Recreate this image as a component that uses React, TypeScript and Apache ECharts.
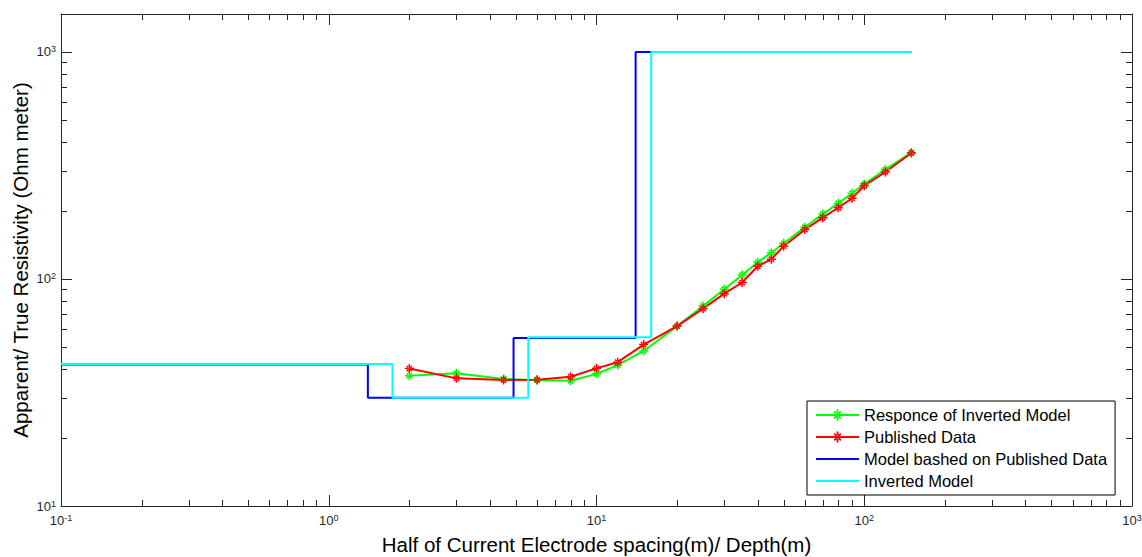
import React, { useEffect, useRef } from "react";
import * as echarts from "echarts";

// Half of current electrode spacing (m)
const spacing = [2, 3, 4.5, 6, 8, 10, 12, 15, 20, 25, 30, 35, 40, 45, 50, 60, 70, 80, 90, 100, 120, 150];
// Published apparent resistivity (Ohm m)
const published = [40.3, 36.5, 35.9, 36.0, 37.1, 40.4, 43, 51.4, 62, 74, 86.2, 96.5, 113.8, 122.3, 139.5, 165, 186.2, 206, 226.8, 257.6, 296, 359];
// Response of inverted model (Ohm m)
const response = [37.5, 38.4, 36.3, 35.8, 35.6, 38.2, 41.7, 48.2, 62, 76, 90.1, 104.1, 118.5, 130.6, 143.6, 169, 193.4, 215.5, 238.5, 262, 304, 360];

// Layered models: resistivity per layer and layer-bottom depths
const modelRho = [42, 30, 55, 1000];
const modelDepth = [1.4, 4.9, 14];
const invRho = [42.2, 30, 55.4, 1000];
const invDepth = [1.73, 5.56, 16];
const modelStart = 0.1;
const modelEnd = 150;

const seriesNames = [
  "Responce of Inverted Model",
  "Published Data",
  "Model bashed on Published Data",
  "Inverted Model",
];

const FONT = "'Liberation Sans', Arial, Helvetica, sans-serif";

function stairs(rho: number[], depth: number[]) {
  const pts: number[][] = [];
  let x0 = modelStart;
  rho.forEach((r, i) => {
    const x1 = i < depth.length ? depth[i] : modelEnd;
    pts.push([x0, r]);
    pts.push([x1, r]);
    x0 = x1;
  });
  return pts;
}

const ASTERISK =
  "path://M-1,-6L1,-6L1,6L-1,6Z M-6,-1L6,-1L6,1L-6,1Z M2.83,4.25L4.25,2.83L-2.83,-4.25L-4.25,-2.83Z M-2.83,4.25L-4.25,2.83L2.83,-4.25L4.25,-2.83Z";
const LINE_ICON = "path://M0,0L43,0L43,2L0,2Z";

function minorList(decades: number[]) {
  const out: number[] = [];
  decades.forEach((d) => {
    for (let k = 2; k <= 9; k++) out.push(k * d);
  });
  return out;
}

const Y_MAX = 1470;

export default function App() {
  const ref = useRef<HTMLDivElement>(null);
  useEffect(() => {
    if (!ref.current) return;
    document.body.style.margin = "0";
    const chart = echarts.init(ref.current, undefined, { renderer: "svg", width: 1142, height: 557 });

    const xMinor = minorList([0.1, 1, 10, 100]).map((v) => [v, 100, 0]);
    const yMinor = minorList([10, 100]).filter((v) => v < Y_MAX).map((v) => [1, v, 1]);

    const labelFmt = (v: number) => {
      const l = Math.log10(v);
      const e = Math.round(l);
      if (Math.abs(l - e) > 1e-6) return "";
      return `{b|10}{s|${e}}`;
    };
    const rich = {
      b: { fontSize: 13, fontFamily: FONT, color: "#262626", lineHeight: 14, verticalAlign: "middle" },
      s: { fontSize: 9, fontFamily: FONT, color: "#262626", lineHeight: 10, verticalAlign: "top", padding: [0, 0, 12, 0] },
    };
    const axisLineStyle = { color: "#262626", width: 1 };

    const option: any = {
      animation: false,
      backgroundColor: "#fff",
      grid: { left: 61, right: 10, top: 14, bottom: 51, containLabel: false, outerBoundsMode: "none" },
      legend: {
        data: [
          { name: seriesNames[0] },
          { name: seriesNames[1] },
          { name: seriesNames[2], icon: LINE_ICON },
          { name: seriesNames[3], icon: LINE_ICON },
        ],
        orient: "vertical",
        left: 807,
        top: 401,
        padding: [5, 8, 5, 8],
        itemWidth: 43,
        itemHeight: 14,
        itemGap: 4,
        borderColor: "#000",
        borderWidth: 1,
        backgroundColor: "#fff",
        textStyle: { fontSize: 16.5, fontFamily: FONT, color: "#000", lineHeight: 18 },
        z: 10,
      },
      xAxis: [
        {
          type: "log",
          logBase: 10,
          min: 0.1,
          max: 1000,
          position: "bottom",
          name: "Half of Current Electrode spacing(m)/ Depth(m)",
          nameLocation: "middle",
          nameGap: 28,
          nameMoveOverlap: false,
          nameTextStyle: { fontSize: 20.5, fontFamily: FONT, color: "#000" },
          axisLine: { show: true, lineStyle: axisLineStyle },
          axisTick: { show: true, inside: true, length: 11, lineStyle: axisLineStyle },
          axisLabel: { formatter: labelFmt, rich, margin: 7 },
          splitLine: { show: false },
        },
        {
          type: "log",
          logBase: 10,
          min: 0.1,
          max: 1000,
          position: "top",
          axisLine: { show: true, lineStyle: axisLineStyle },
          axisTick: { show: true, inside: true, length: 11, lineStyle: axisLineStyle },
          axisLabel: { show: false },
          splitLine: { show: false },
        },
      ],
      yAxis: [
        {
          type: "log",
          logBase: 10,
          min: 10,
          max: Y_MAX,
          position: "left",
          name: "Apparent/ True Resistivity (Ohm meter)",
          nameLocation: "middle",
          nameGap: 30,
          nameMoveOverlap: false,
          nameRotate: 90,
          nameTextStyle: { fontSize: 20.5, fontFamily: FONT, color: "#000" },
          axisLine: { show: true, lineStyle: axisLineStyle },
          axisTick: { show: true, inside: true, length: 11, lineStyle: axisLineStyle },
          axisLabel: { formatter: labelFmt, rich, margin: 5, showMaxLabel: false },
          splitLine: { show: false },
        },
        {
          type: "log",
          logBase: 10,
          min: 10,
          max: Y_MAX,
          position: "right",
          axisLine: { show: true, lineStyle: axisLineStyle },
          axisTick: { show: true, inside: true, length: 11, lineStyle: axisLineStyle },
          axisLabel: { show: false },
          splitLine: { show: false },
        },
      ],
      series: [
        {
          type: "custom",
          name: "minorTicks",
          silent: true,
          xAxisIndex: 0,
          yAxisIndex: 0,
          encode: { x: 0, y: 1 },
          data: [...xMinor, ...yMinor],
          clip: false,
          renderItem: (params: any, api: any) => {
            const cs = params.coordSys;
            const kind = api.value(2);
            const style = { stroke: "#262626", lineWidth: 1 };
            if (kind === 0) {
              const p = api.coord([api.value(0), 100]);
              const x = Math.round(p[0]) + 0.5;
              return {
                type: "group",
                children: [
                  { type: "line", shape: { x1: x, y1: cs.y + cs.height, x2: x, y2: cs.y + cs.height - 6 }, style },
                  { type: "line", shape: { x1: x, y1: cs.y, x2: x, y2: cs.y + 6 }, style },
                ],
              };
            }
            const p = api.coord([1, api.value(1)]);
            const y = Math.round(p[1]) + 0.5;
            return {
              type: "group",
              children: [
                { type: "line", shape: { x1: cs.x, y1: y, x2: cs.x + 6, y2: y }, style },
                { type: "line", shape: { x1: cs.x + cs.width, y1: y, x2: cs.x + cs.width - 6, y2: y }, style },
              ],
            };
          },
        },
        {
          name: seriesNames[0],
          type: "line",
          data: spacing.map((x, i) => [x, response[i]]),
          lineStyle: { color: "#00ff00", width: 2 },
          itemStyle: { color: "#00ff00" },
          symbol: ASTERISK,
          symbolSize: 9,
          showSymbol: true,
        },
        {
          name: seriesNames[1],
          type: "line",
          data: spacing.map((x, i) => [x, published[i]]),
          lineStyle: { color: "#ff0000", width: 2 },
          itemStyle: { color: "#ff0000" },
          symbol: ASTERISK,
          symbolSize: 9,
          showSymbol: true,
        },
        {
          name: seriesNames[2],
          type: "line",
          data: stairs(modelRho, modelDepth),
          lineStyle: { color: "#0000ff", width: 2 },
          itemStyle: { color: "#0000ff" },
          symbol: "none",
        },
        {
          name: seriesNames[3],
          type: "line",
          data: stairs(invRho, invDepth),
          lineStyle: { color: "#00ffff", width: 2 },
          itemStyle: { color: "#00ffff" },
          symbol: "none",
        },
      ],
    };
    chart.setOption(option);
    return () => chart.dispose();
  }, []);

  return <div ref={ref} style={{ width: 1142, height: 557, background: "#fff" }} />;
}
